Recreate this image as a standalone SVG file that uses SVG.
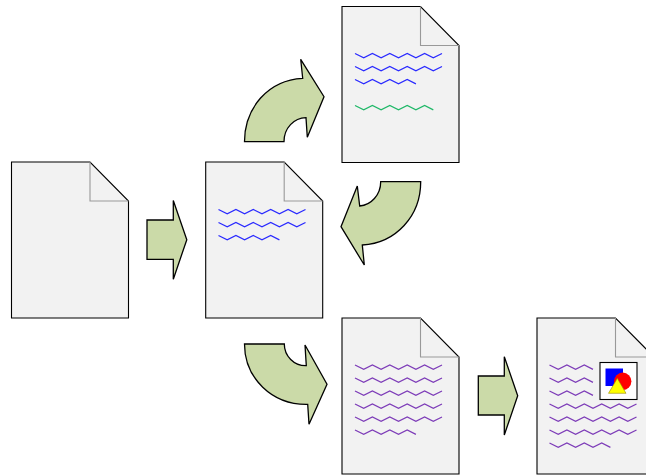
<svg xmlns="http://www.w3.org/2000/svg" xmlns:xlink="http://www.w3.org/1999/xlink" width="646" height="475" viewBox="0 0 646 475">
<style>
.page{fill:#f2f2f2;stroke:#000;stroke-width:1.100;stroke-linejoin:miter}
.fold{fill:none;stroke:#999;stroke-width:1.100}
.arrow{fill:#cbdaa8;stroke:#000;stroke-width:1.300;stroke-linejoin:miter}
.w{fill:none;stroke-width:1.250;stroke-linejoin:miter}
.blue{stroke:#2a2aff}.green{stroke:#1fb868}.purple{stroke:#7d3cb8}
</style>
<defs>
<g id="doc">
<path class="page" d="M0 0H78.500L117 39V156H0Z"/>
<path class="fold" d="M78.500 0V39H117"/>
</g>
<polyline id="w5" class="w" points="0,0 8.700,4.400 17.400,0 26.100,4.400 34.800,0 43.500,4.400"/>
<polyline id="w7" class="w" points="0,0 8.700,4.400 17.400,0 26.100,4.400 34.800,0 43.500,4.400 52.200,0 60.900,4.400"/>
<polyline id="w9" class="w" points="0,0 8.700,4.400 17.400,0 26.100,4.400 34.800,0 43.500,4.400 52.200,0 60.900,4.400 69.600,0 78.300,4.400"/>
<polyline id="w10" class="w" points="0,0 8.700,4.400 17.400,0 26.100,4.400 34.800,0 43.500,4.400 52.200,0 60.900,4.400 69.600,0 78.300,4.400 87,0"/>
</defs>
<g id="source-document"><use href="#doc" x="11.500" y="162"/></g>
<g id="center-document"><use href="#doc" x="205.700" y="162"/>
<g class="blue"><use href="#w10" x="218.500" y="209.500"/><use href="#w10" x="218.500" y="222.500"/><use href="#w7" x="218.500" y="235.500"/></g></g>
<g id="top-document"><use href="#doc" x="342" y="6.500"/>
<g class="blue"><use href="#w10" x="355" y="53.500"/><use href="#w10" x="355" y="66.500"/><use href="#w7" x="355" y="79.500"/></g>
<g class="green"><use href="#w9" x="355" y="105.500"/></g></g>
<g id="bottom-document"><use href="#doc" x="342" y="318"/>
<g class="purple"><use href="#w10" x="355" y="365"/><use href="#w10" x="355" y="378"/><use href="#w10" x="355" y="391"/><use href="#w10" x="355" y="404"/><use href="#w10" x="355" y="417"/><use href="#w7" x="355" y="430"/></g></g>
<g id="final-document"><use href="#doc" x="537" y="318"/>
<g class="purple"><use href="#w5" x="549.500" y="365"/><use href="#w5" x="549.500" y="378"/><use href="#w5" x="549.500" y="391"/><use href="#w10" x="549.500" y="404"/><use href="#w10" x="549.500" y="417"/><use href="#w10" x="549.500" y="430"/><use href="#w7" x="549.500" y="443"/></g>
<g id="picture">
<rect x="600" y="362.500" width="37" height="37" fill="#fff" stroke="#000" stroke-width="1.100"/>
<rect x="605.500" y="368.500" width="17.500" height="17.500" fill="#00f"/>
<circle cx="622.700" cy="381.300" r="8.700" fill="#f00"/>
<path d="M617.300 378.300L626 393.300H608.500Z" fill="#ff0" stroke="#998800" stroke-width=".6"/>
</g></g>
<g id="connectors">
<path class="arrow" d="M147 220H173.300V200.500L186.800 239.700L173.300 279.200V259.300H147Z"/>
<path class="arrow" d="M478.300 376H504.300V356.700L517.700 395.700L504.300 435V415H478.300Z"/>
<path class="arrow" d="M244.500 141.700C244.500 108 268 80 302.700 78.300L300.700 59.300L324 96.700L307.300 137.300L306 117.700C294 118 284 128 284 141.700Z"/>
<path class="arrow" d="M380.700 181.700H420.700C420.700 216 396 243 362.300 245L364.300 265L341 226.700L357.300 186L359.700 206C371 205 380.700 195 380.700 181.700Z"/>
<path class="arrow" d="M244.500 344H284.300C284.300 356 294 366 306.300 365.700L305 345L327 384.300L309 424.300L307.700 404.300C272 405 244.500 378 244.500 344Z"/>
</g>
</svg>
